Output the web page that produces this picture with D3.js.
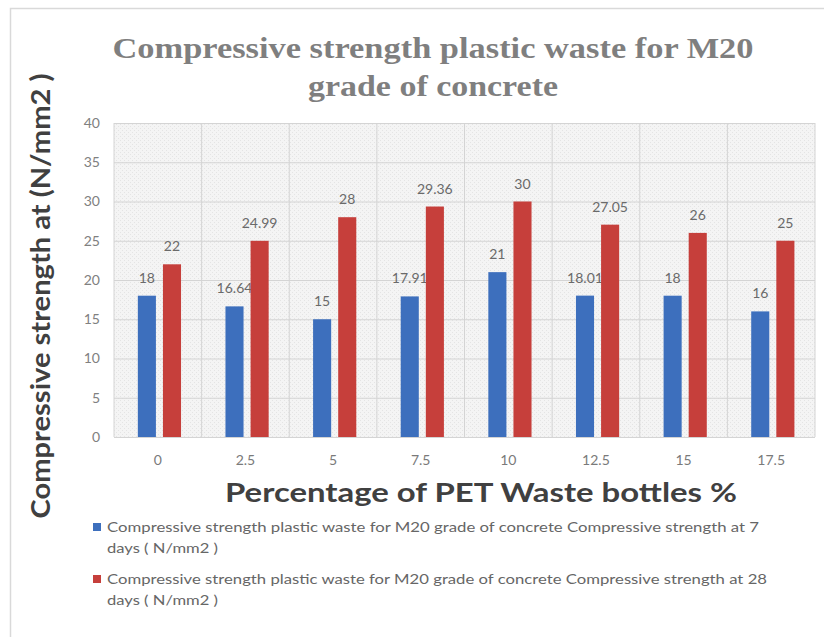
<!DOCTYPE html>
<html>
<head>
<meta charset="utf-8">
<script src="https://cdn.jsdelivr.net/npm/d3@7"></script>
<style>
  html, body { margin: 0; padding: 0; background: #ffffff; }
  svg { display: block; }
</style>
</head>
<body>
<svg id="chart" width="824" height="637"></svg>
<script>
// ---- data ----
const categories = ["0", "2.5", "5", "7.5", "10", "12.5", "15", "17.5"];
const seriesNames = [
  "Compressive strength  plastic waste for M20 grade of concrete Compressive strength at 7 days ( N/mm2 )",
  "Compressive strength  plastic waste for M20 grade of concrete Compressive strength at 28 days ( N/mm2 )"
];
const days7 = [18, 16.64, 15, 17.91, 21, 18.01, 18, 16];
const days28 = [22, 24.99, 28, 29.36, 30, 27.05, 26, 25];
const yTicks = [0, 5, 10, 15, 20, 25, 30, 35, 40];
const chartTitle = ["Compressive strength  plastic waste for M20", "grade of concrete"];
const xTitle = "Percentage of PET Waste bottles %";
const yTitle = "Compressive strength at (N/mm2 )";
const legendLines = [
  ["Compressive strength  plastic waste for M20 grade of concrete Compressive strength at 7", "days ( N/mm2 )"],
  ["Compressive strength  plastic waste for M20 grade of concrete Compressive strength at 28", "days ( N/mm2 )"]
];

const colors = ["#3d6fbd", "#c63f3b"];
const svg = d3.select("#chart");

// chart frame
svg.append("rect").attr("x", 10.5).attr("y", 8.5).attr("width", 830).attr("height", 640)
  .attr("fill", "#ffffff").attr("stroke", "#d9d9d9").attr("stroke-width", 1.5);

const plot = { left: 114, right: 815, top: 123, bottom: 437 };

const x0 = d3.scaleBand().domain(categories).range([plot.left, plot.right]).padding(0);
const bw = x0.bandwidth();
const x1 = d3.scaleBand().domain([0, 1]).range([bw * 0.272, bw * 0.765]).paddingInner(0.28);
const y = d3.scaleLinear().domain([0, 40]).range([plot.bottom, plot.top]);

// plot background with subtle texture
const defs = svg.append("defs");
const pat = defs.append("pattern").attr("id", "tex").attr("width", 4).attr("height", 4)
  .attr("patternUnits", "userSpaceOnUse");
pat.append("rect").attr("width", 4).attr("height", 4).attr("fill", "#f4f4f4");
pat.append("rect").attr("x", 0).attr("y", 0).attr("width", 1).attr("height", 1).attr("fill", "#e4e4e4");
pat.append("rect").attr("x", 2).attr("y", 2).attr("width", 1).attr("height", 1).attr("fill", "#e4e4e4");

svg.append("rect").attr("x", plot.left).attr("y", plot.top)
  .attr("width", plot.right - plot.left).attr("height", plot.bottom - plot.top)
  .attr("fill", "url(#tex)");

// horizontal gridlines via axis
const yGrid = svg.append("g").attr("transform", `translate(${plot.left},0)`)
  .call(d3.axisLeft(y).tickValues(yTicks).tickSize(-(plot.right - plot.left)).tickFormat(""));
yGrid.select(".domain").remove();
yGrid.selectAll("line").attr("stroke", "#d4d4d4").attr("stroke-width", 1);

// vertical gridlines at category boundaries
const bounds = categories.map(c => x0(c)).concat([plot.right]);
svg.append("g").selectAll("line").data(bounds).join("line")
  .attr("x1", d => d).attr("x2", d => d)
  .attr("y1", plot.top).attr("y2", plot.bottom)
  .attr("stroke", "#d4d4d4").attr("stroke-width", 1);

// y axis labels
const yAxis = svg.append("g").attr("transform", `translate(${plot.left - 12},0)`)
  .call(d3.axisLeft(y).tickValues(yTicks).tickSize(0).tickPadding(2));
yAxis.select(".domain").remove();
yAxis.selectAll("text").attr("fill", "#808080").attr("font-family", "Lato, 'Open Sans', sans-serif")
  .attr("font-size", 14);

// x axis labels
const xAxis = svg.append("g").attr("transform", `translate(0,${plot.bottom + 18})`)
  .call(d3.axisBottom(x0).tickSize(0).tickPadding(0));
xAxis.select(".domain").remove();
xAxis.selectAll("text").attr("fill", "#7a7a7a").attr("font-family", "Lato, 'Open Sans', sans-serif")
  .attr("font-size", 14);

// bars
const seriesData = [days7, days28];
const groups = svg.append("g").selectAll("g").data(seriesData).join("g")
  .attr("fill", (d, i) => colors[i]);
groups.each(function (vals, si) {
  const g = d3.select(this);
  g.selectAll("rect").data(vals).join("rect")
    .attr("x", (d, i) => x0(categories[i]) + x1(si))
    .attr("y", d => y(d))
    .attr("width", x1.bandwidth())
    .attr("height", d => y(0) - y(d));
  g.selectAll("text").data(vals).join("text")
    .attr("x", (d, i) => x0(categories[i]) + x1(si) + x1.bandwidth() / 2)
    .attr("y", d => y(d) - 13)
    .attr("text-anchor", "middle")
    .attr("fill", "#6a6a6a")
    .attr("font-family", "Lato, 'Open Sans', sans-serif")
    .attr("font-size", 14)
    .text(d => d);
});

// chart title
svg.append("g").selectAll("text").data(chartTitle).join("text")
  .attr("x", 433).attr("y", (d, i) => 58 + i * 38)
  .attr("text-anchor", "middle")
  .attr("font-family", "'Liberation Serif', 'DejaVu Serif', serif")
  .attr("font-weight", "bold").attr("font-size", 29)
  .attr("fill", "#7f7f7f")
  .attr("textLength", (d, i) => i === 0 ? 641 : 250)
  .attr("lengthAdjust", "spacingAndGlyphs")
  .text(d => d);

// x axis title
svg.append("text").attr("x", 481).attr("y", 502)
  .attr("text-anchor", "middle")
  .attr("font-family", "Lato, 'Open Sans', sans-serif")
  .attr("font-weight", "bold").attr("font-size", 27)
  .attr("fill", "#404040")
  .attr("textLength", 512).attr("lengthAdjust", "spacingAndGlyphs")
  .text(xTitle);

// y axis title
svg.append("text")
  .attr("transform", "translate(50,296) rotate(-90)")
  .attr("text-anchor", "middle")
  .attr("font-family", "Lato, 'Open Sans', sans-serif")
  .attr("font-weight", "bold").attr("font-size", 26)
  .attr("fill", "#404040")
  .attr("textLength", 445).attr("lengthAdjust", "spacingAndGlyphs")
  .text(yTitle);

// legend
const legend = svg.append("g").selectAll("g").data(legendLines).join("g")
  .attr("transform", (d, i) => `translate(0,${527 + i * 52})`);
legend.append("rect").attr("x", 93).attr("y", -4).attr("width", 8).attr("height", 8)
  .attr("fill", (d, i) => colors[i]);
legend.each(function (lines, li) {
  d3.select(this).selectAll("text").data(lines).join("text")
    .attr("x", 107).attr("y", (d, i) => 5 + i * 21)
    .attr("font-family", "Lato, 'Open Sans', sans-serif")
    .attr("font-size", 14)
    .attr("fill", "#666666")
    .attr("textLength", (d, i) => i === 0 ? (li === 0 ? 652 : 660) : 111)
    .attr("lengthAdjust", "spacingAndGlyphs")
    .text(d => d);
});
</script>
</body>
</html>
